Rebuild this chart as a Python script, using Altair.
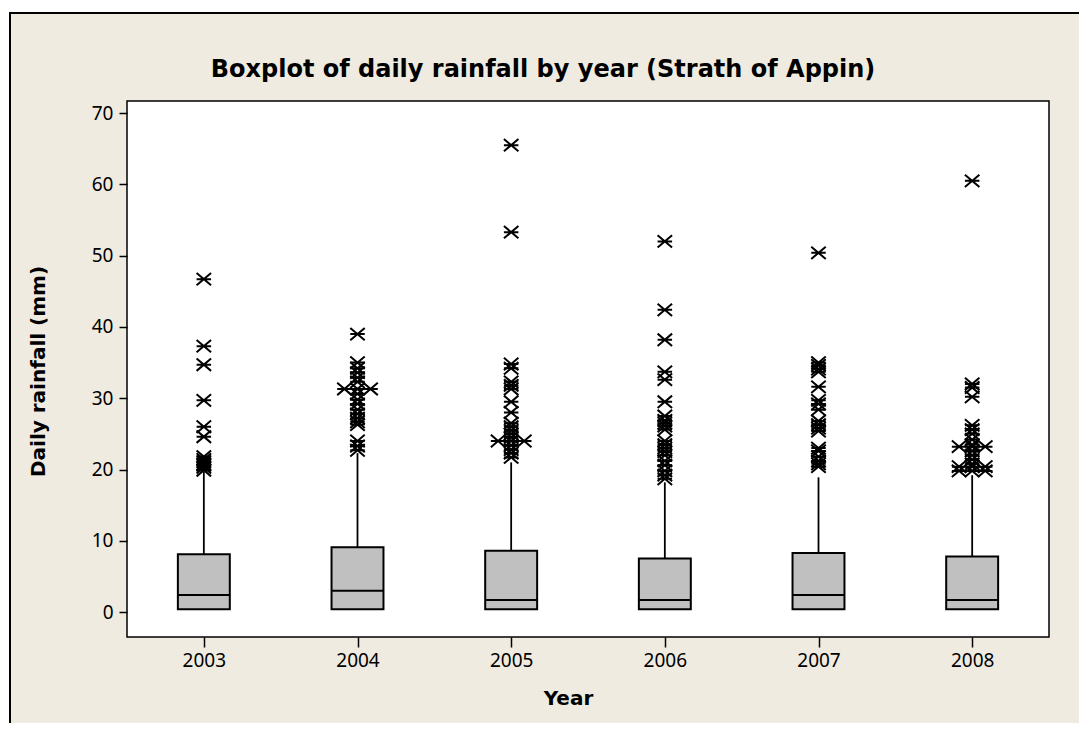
import altair as alt
import pandas as pd

# ---- data ----
years = [2003, 2004, 2005, 2006, 2007, 2008]
q1 = [0.4, 0.4, 0.4, 0.4, 0.4, 0.4]
medians = [2.4, 3.0, 1.7, 1.7, 2.4, 1.7]
q3 = [8.1, 9.1, 8.6, 7.5, 8.3, 7.8]
whisker_hi = [19.7, 22.3, 21.0, 18.2, 18.9, 19.2]

outliers_2003 = [46.7, 37.3, 34.7, 29.7, 26.0, 24.6, 21.8, 21.4, 21.1, 20.8, 20.6, 20.3, 19.9]
outliers_2004 = [39.0, 35.0, 34.2, 33.6, 32.9, 32.3, 31.3, 31.3, 31.3, 30.6, 29.8, 29.2,
                 28.4, 27.8, 27.2, 26.7, 26.3, 24.0, 23.3, 22.7]
outliers_2005 = [65.5, 53.3, 34.8, 34.2, 32.3, 31.8, 31.3, 29.5, 28.0, 26.5, 26.0, 25.5,
                 25.0, 24.5, 24.0, 24.0, 24.0, 23.4, 22.8, 22.3, 21.7]
outliers_2006 = [52.0, 42.4, 38.2, 33.7, 32.6, 29.5, 27.5, 26.9, 26.5, 26.1, 25.6, 24.0,
                 23.5, 23.0, 22.5, 22.0, 21.2, 20.6, 19.8, 19.2, 18.7]
outliers_2007 = [50.4, 35.0, 34.6, 34.1, 33.7, 31.6, 29.7, 29.2, 28.4, 26.8, 26.3, 25.8,
                 25.4, 23.0, 22.6, 21.8, 21.2, 20.8, 20.4]
outliers_2008 = [60.5, 32.0, 31.5, 30.2, 26.2, 25.6, 25.0, 24.2, 23.5, 23.2, 23.2, 23.2,
                 22.6, 22.0, 21.4, 20.8, 20.4, 20.4, 20.4, 19.8, 19.8, 19.8]

title_text = "Boxplot of daily rainfall by year (Strath of Appin)"
x_title = "Year"
y_title = "Daily rainfall (mm)"
y_ticks = [0, 10, 20, 30, 40, 50, 60, 70]

# ---- tables ----
box_df = pd.DataFrame({"year": years, "q1": q1, "median": medians, "q3": q3, "whi": whisker_hi})

rows = []
for yr, vals in zip(years, [outliers_2003, outliers_2004, outliers_2005,
                            outliers_2006, outliers_2007, outliers_2008]):
    seen = {}
    for v in vals:
        n = seen.get(v, 0)
        seen[v] = n + 1
        tie = [0, -1, 1, -2, 2][min(n, 4)]  # tied values drawn side by side
        rows.append({"year": yr, "value": v, "tie": tie})
out_df = pd.DataFrame(rows)
one = pd.DataFrame({"t": [title_text]})

W, H = 922, 536
BEIGE = "#EFEBE0"
FONT = "Noto Sans"
BOLD_FONT = "DejaVu Sans"

xs = alt.Scale(domain=[2002.5, 2008.5], nice=False, zero=False)
ys = alt.Scale(domain=[-3.5, 71.7], nice=False, zero=False)

x_axis = alt.Axis(values=years, format="d", title=x_title, tickSize=10, zindex=2,
                  labelPadding=4,
                  titleX=441, titleY=61, titleBaseline="middle", titleAlign="center")
y_axis = alt.Axis(values=y_ticks, title=y_title, tickSize=8, zindex=2,
                  labelPadding=6,
                  titleX=-89, titleY=270, titleAngle=270, titleBaseline="middle",
                  titleAlign="center")

frame = alt.Chart(one).mark_rect(fill=BEIGE, stroke="black", strokeWidth=2).encode(
    x=alt.value(-117), x2=alt.value(1000), y=alt.value(-88), y2=alt.value(700))
plot_bg = alt.Chart(one).mark_rect(fill="white", stroke="black", strokeWidth=1.5).encode(
    x=alt.value(0), x2=alt.value(W), y=alt.value(0), y2=alt.value(H))
title = alt.Chart(one).mark_text(font=BOLD_FONT, fontSize=24, fontWeight="bold", color="black",
                                 align="center", baseline="middle").encode(
    x=alt.value(416), y=alt.value(-31), text="t:N")

base = alt.Chart(box_df).transform_calculate(
    xl="datum.year - 0.169", xr="datum.year + 0.169")

whisker = base.mark_rule(color="black", strokeWidth=1.8).encode(
    x=alt.X("year:Q", scale=xs, axis=x_axis),
    y=alt.Y("q3:Q", scale=ys, axis=y_axis),
    y2="whi:Q")

box = base.mark_rect(fill="#C0C0C0", stroke="black", strokeWidth=2).encode(
    x=alt.X("xl:Q", scale=xs, axis=x_axis), x2="xr:Q",
    y=alt.Y("q1:Q", scale=ys, axis=y_axis), y2="q3:Q")

median = base.mark_rule(color="black", strokeWidth=2).encode(
    x=alt.X("xl:Q", scale=xs, axis=x_axis), x2="xr:Q",
    y=alt.Y("median:Q", scale=ys, axis=y_axis))

star = "M-1,-0.85L1,0.85M-1,0.85L1,-0.85M-1,0L1,0"
points = alt.Chart(out_df).transform_calculate(
    xp="datum.year + datum.tie * 0.085").mark_point(
    shape=star, size=210, filled=False, stroke="black", strokeWidth=2, opacity=1).encode(
    x=alt.X("xp:Q", scale=xs, axis=x_axis),
    y=alt.Y("value:Q", scale=ys, axis=y_axis))

chart = alt.layer(frame, plot_bg, title, whisker, box, median, points).properties(
    width=W, height=H,
    padding={"left": 119, "top": 93, "right": 30, "bottom": 86},
    autosize=alt.AutoSizeParams(type="none"),
    background="white",
).configure_view(stroke=None).configure_axis(
    domain=False, grid=False, tickColor="black", tickWidth=1.5,
    labelFont=FONT, labelFontSize=19, labelColor="black",
    titleFont=BOLD_FONT, titleFontSize=20, titleFontWeight="bold", titleColor="black")

chart.save("out.html", embed_options={"renderer": "svg", "actions": False})
